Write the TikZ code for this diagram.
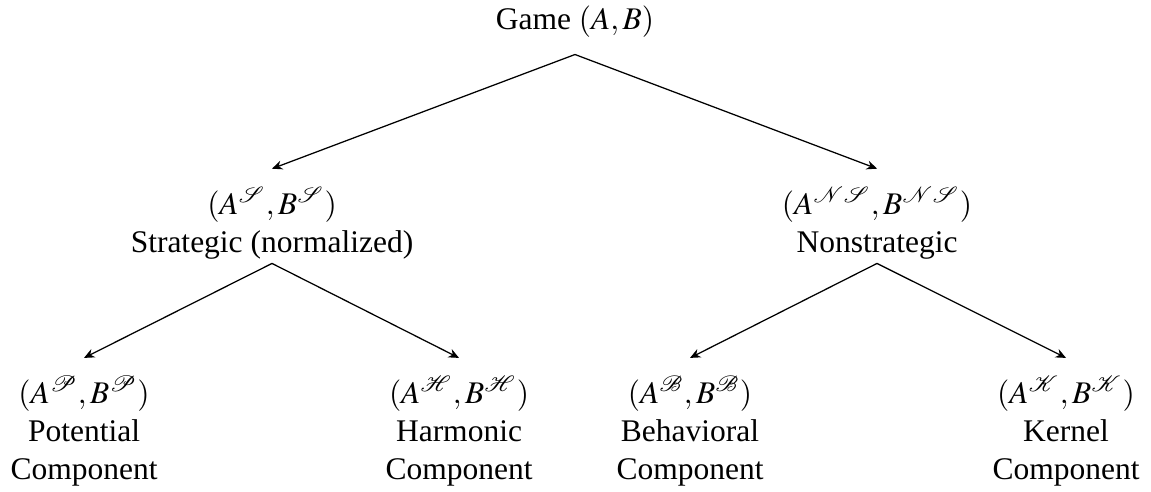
\documentclass[tikz,border=0pt]{standalone}
\usepackage{mathptmx}
\usepackage{mathrsfs}
\usepackage[no-math]{fontspec}
\setmainfont{Liberation Serif}
\usetikzlibrary{arrows.meta}
\begin{document}
\begin{tikzpicture}[x=0.31746pt,y=-0.31746pt,
  lbl/.style={align=center, inner sep=0pt, anchor=base},
  arr/.style={-{Stealth[length=3.3pt,width=2.9pt]}, line width=0.4pt}]
\useasboundingbox (0,0) rectangle (1151,491);
\node[lbl] (root) at (575,30) {Game $(A,B)$};
\node[lbl] (strat) at (272,252) {$(A^{\mathscr{S}},B^{\mathscr{S}})$\\Strategic (normalized)};
\node[lbl] (nonstrat) at (877,252) {$(A^{\mathscr{N}\mathscr{S}},B^{\mathscr{N}\mathscr{S}})$\\Nonstrategic};
\node[lbl] (pot) at (84,479) {$(A^{\mathscr{P}},B^{\mathscr{P}})$\\Potential\\Component};
\node[lbl] (harm) at (459,479) {$(A^{\mathscr{H}},B^{\mathscr{H}})$\\Harmonic\\Component};
\node[lbl] (beh) at (690,479) {$(A^{\mathscr{B}},B^{\mathscr{B}})$\\Behavioral\\Component};
\node[lbl] (ker) at (1066,479) {$(A^{\mathscr{K}},B^{\mathscr{K}})$\\Kernel\\Component};
\draw[arr] ([shift={(0,16)}]root.south) -- ([shift={(0,-18)}]strat.north);
\draw[arr] ([shift={(0,16)}]root.south) -- ([shift={(0,-18)}]nonstrat.north);
\draw[arr] ([shift={(0,4)}]strat.south) -- ([shift={(0,-18)}]pot.north);
\draw[arr] ([shift={(0,4)}]strat.south) -- ([shift={(0,-18)}]harm.north);
\draw[arr] ([shift={(0,4)}]nonstrat.south) -- ([shift={(0,-18)}]beh.north);
\draw[arr] ([shift={(0,4)}]nonstrat.south) -- ([shift={(0,-18)}]ker.north);
\end{tikzpicture}
\end{document}
